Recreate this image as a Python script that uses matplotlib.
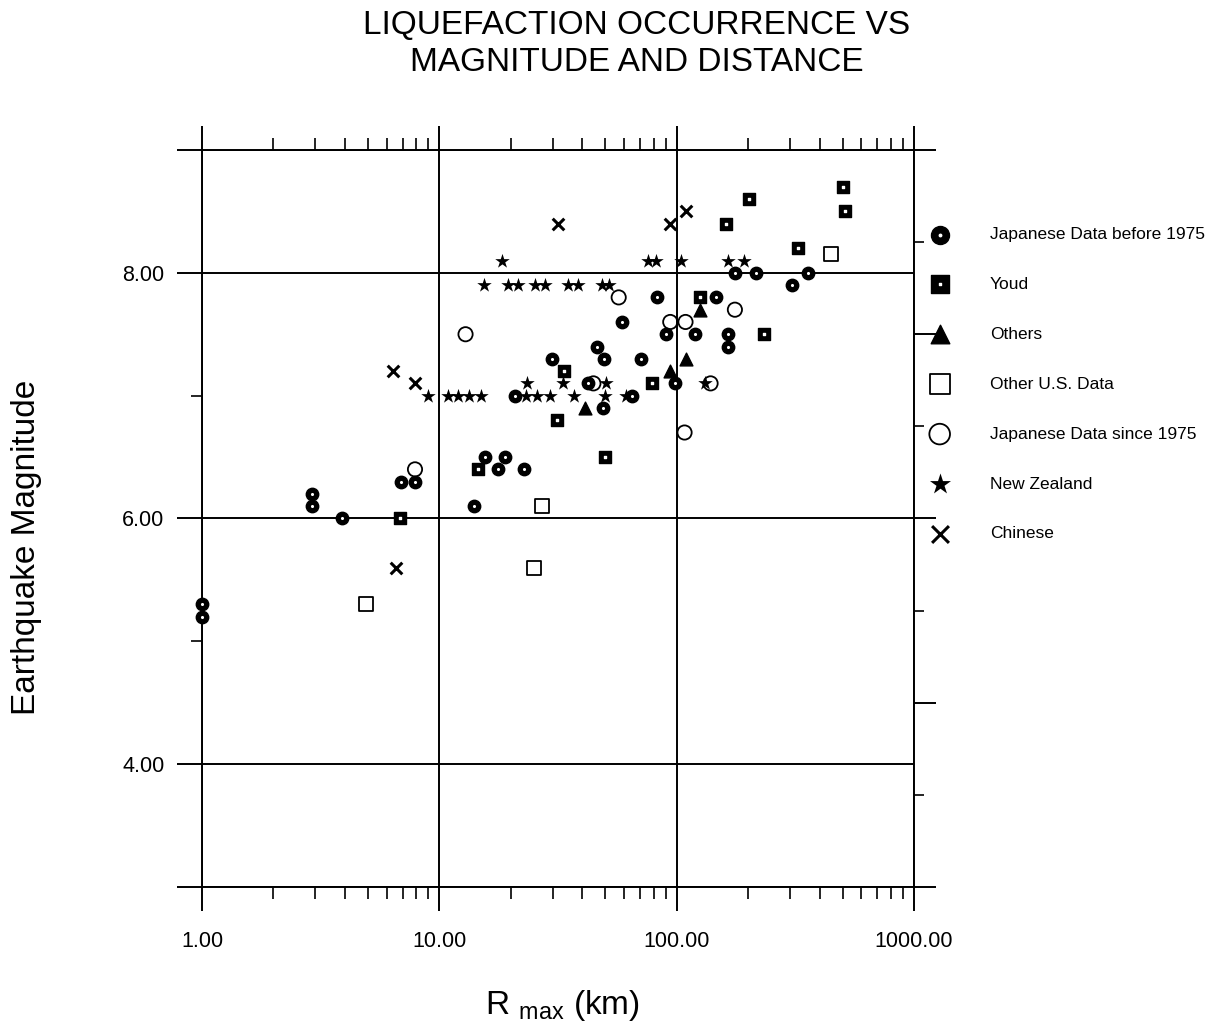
import numpy as np
import matplotlib
matplotlib.use("Agg")
import matplotlib.pyplot as plt
from matplotlib.ticker import FixedLocator, NullFormatter, LogLocator

plt.rcParams['font.family'] = ['Liberation Sans', 'DejaVu Sans']
plt.rcParams['mathtext.fontset'] = 'custom'
plt.rcParams['mathtext.rm'] = 'Liberation Sans'

# Japanese data before 1975
jp_pre_r = [1.0, 1.0, 2.9, 2.9, 3.9, 6.9, 7.9, 14.0, 15.6, 17.6, 19.0, 22.7, 20.8,
            29.9, 42.5, 46.3, 48.9, 49.4, 58.8, 65.0, 70.5, 83.0, 90.0, 98.6,
            119.0, 147.0, 165.0, 165.0, 177.0, 216.0, 305.0, 357.0]
jp_pre_m = [5.3, 5.2, 6.2, 6.1, 6.0, 6.3, 6.3, 6.1, 6.5, 6.4, 6.5, 6.4, 7.0,
            7.3, 7.1, 7.4, 6.9, 7.3, 7.6, 7.0, 7.3, 7.8, 7.5, 7.1,
            7.5, 7.8, 7.5, 7.4, 8.0, 8.0, 7.9, 8.0]

# Youd
youd_r = [6.8, 14.6, 31.2, 33.6, 49.8, 79.0, 126.0, 162.0, 201.0, 233.0, 324.0, 504.0, 514.0]
youd_m = [6.0, 6.4, 6.8, 7.2, 6.5, 7.1, 7.8, 8.4, 8.6, 7.5, 8.2, 8.7, 8.5]

# Others
oth_r = [41.0, 94.0, 109.0, 125.0]
oth_m = [6.9, 7.2, 7.3, 7.7]

# Other U.S. data
us_r = [4.9, 25.0, 27.0, 447.0]
us_m = [5.3, 5.6, 6.1, 8.15]

# Japanese data since 1975
jp_new_r = [7.9, 12.9, 44.6, 57.0, 94.0, 108.0, 109.0, 139.0, 176.0]
jp_new_m = [6.4, 7.5, 7.1, 7.8, 7.6, 6.7, 7.6, 7.1, 7.7]

# New Zealand
nz_r = [18.4, 76.0, 81.5, 104.0, 164.0, 192.0,
        15.5, 19.5, 21.4, 25.3, 27.9, 34.8, 38.5, 48.4, 52.0,
        23.5, 33.1, 50.2, 132.0,
        8.95, 10.9, 12.0, 13.4, 15.0, 23.3, 25.8, 29.4, 36.9, 49.7, 61.0]
nz_m = [8.1, 8.1, 8.1, 8.1, 8.1, 8.1,
        7.9, 7.9, 7.9, 7.9, 7.9, 7.9, 7.9, 7.9, 7.9,
        7.1, 7.1, 7.1, 7.1,
        7.0, 7.0, 7.0, 7.0, 7.0, 7.0, 7.0, 7.0, 7.0, 7.0, 7.0]

# Chinese
cn_r = [6.4, 6.6, 7.9, 31.6, 93.5, 109.0]
cn_m = [7.2, 5.6, 7.1, 8.4, 8.4, 8.5]

x_ticks = [1, 10, 100, 1000]
x_labels = ['1.00', '10.00', '100.00', '1000.00']
y_ticks = [3, 4, 6, 8, 9]
y_labels = ['', '4.00', '6.00', '8.00', '']

fig = plt.figure(figsize=(12.24, 10.31), dpi=100)
ax = fig.add_axes([0.165, 0.1397, 0.5817, 0.7148])
lw = 1.4

# scatter per data set (dotted centres on the filled symbols)
h1 = ax.scatter(jp_pre_r, jp_pre_m, s=80, marker='o', c='black', clip_on=False, zorder=3)
h1b = ax.scatter(jp_pre_r, jp_pre_m, s=1.5, marker='o', c='white', clip_on=False, zorder=4)
h2 = ax.scatter(youd_r, youd_m, s=85, marker='s', c='black', zorder=3)
h2b = ax.scatter(youd_r, youd_m, s=1.5, marker='s', c='white', zorder=4)
h3 = ax.scatter(oth_r, oth_m, s=85, marker='^', c='black', zorder=3)
h4 = ax.scatter(us_r, us_m, s=90, marker='s', facecolors='white', edgecolors='black',
                linewidths=1.3, zorder=3)
h5 = ax.scatter(jp_new_r, jp_new_m, s=105, marker='o', facecolors='none', edgecolors='black',
                linewidths=1.3, zorder=3)
h6 = ax.scatter(nz_r, nz_m, s=120, marker='*', c='black', linewidths=0, zorder=3)
h7 = ax.scatter(cn_r, cn_m, s=70, marker='x', c='black', linewidths=2.2, zorder=3)

ax.set_xscale('log')
ax.set_xlim(1, 1000)
ax.set_ylim(3, 9)

ax.set_xticks(x_ticks)
ax.set_xticklabels(x_labels)
ax.xaxis.set_minor_locator(LogLocator(base=10, subs=np.arange(2, 10)))
ax.xaxis.set_minor_formatter(NullFormatter())
ax.tick_params(axis='x', which='major', direction='out', top=True, bottom=True,
               length=17, width=lw, pad=15, labelsize=15.5)
ax.tick_params(axis='x', which='minor', direction='out', top=True, bottom=True,
               length=8.5, width=1.2)

ax.set_yticks(y_ticks)
ax.set_yticklabels(y_labels)
ax.yaxis.set_minor_locator(FixedLocator([5, 7]))
ax.tick_params(axis='y', which='major', direction='out', left=True, right=False,
               length=18, width=lw, pad=9, labelsize=15.5)
ax.tick_params(axis='y', which='minor', direction='out', left=True, right=False,
               length=8, width=1.2)

ax.grid(True, which='major', axis='both', color='black', linewidth=lw)
ax.set_axisbelow(True)
for sp in ax.spines.values():
    sp.set_linewidth(lw)

# right-hand tick scale
ax2 = ax.twinx()
ax2.set_ylim(3, 9)
ax2.yaxis.set_major_locator(FixedLocator([3, 4.5, 6, 7.5, 9]))
ax2.yaxis.set_minor_locator(FixedLocator([3.75, 5.25, 6.75, 8.25]))
ax2.yaxis.set_major_formatter(NullFormatter())
ax2.tick_params(axis='y', which='major', direction='out', length=16, width=lw)
ax2.tick_params(axis='y', which='minor', direction='out', length=7, width=1.2)
for sp in ax2.spines.values():
    sp.set_visible(False)

ax.set_ylabel('Earthquake Magnitude', fontsize=24)
ax.yaxis.set_label_coords(-0.225, 0.461)
ax.set_xlabel(r'R $_{\rm max}$ (km)', fontsize=24)
ax.xaxis.set_label_coords(0.506, -0.137)

fig.text(0.52, 1 - 44 / 1031, 'LIQUEFACTION OCCURRENCE VS\nMAGNITUDE AND DISTANCE',
         ha='center', va='center', fontsize=24, linespacing=1.28)

handles = [(h1, h1b), (h2, h2b), h3, h4, h5, h6, h7]
labels = ['Japanese Data before 1975', 'Youd', 'Others', 'Other U.S. Data',
          'Japanese Data since 1975', 'New Zealand', 'Chinese']
fig.legend(handles, labels, loc='upper left', bbox_to_anchor=(931 / 1224, 1 - 227 / 1031),
           frameon=False, fontsize=12.5, markerscale=1.45, handlelength=1.0,
           handletextpad=2.4, labelspacing=2.0, borderpad=0, borderaxespad=0)

fig.savefig('out.png', dpi=100)
